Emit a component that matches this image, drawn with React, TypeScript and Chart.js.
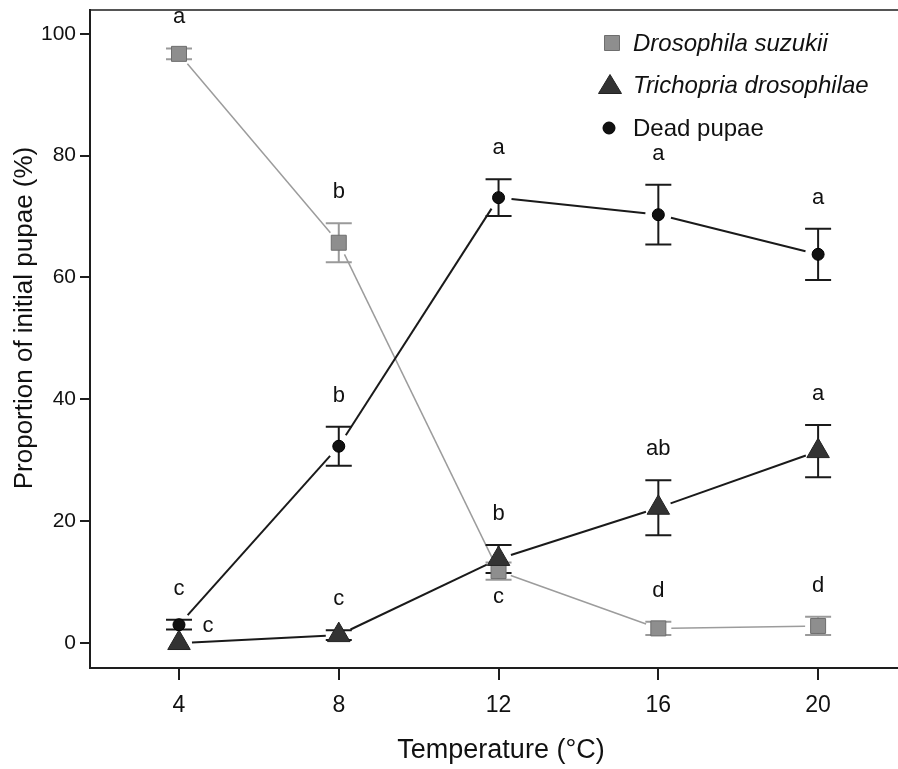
import React, { useEffect, useRef } from 'react';
import { Chart, registerables } from 'chart.js';

Chart.register(...registerables);

// ---- data ----
const temperatures = [4, 8, 12, 16, 20];
const xTickValues = [4, 8, 12, 16, 20];
const yTickValues = [0, 20, 40, 60, 80, 100];

const suzukiiMean = [96.7, 65.7, 11.8, 2.4, 2.8];
const suzukiiErr = [0.9, 3.2, 1.4, 1.1, 1.5];
const suzukiiLetters = ['a', 'b', 'c', 'd', 'd'];
const suzukiiLetterPlace = ['above', 'above', 'below', 'above', 'above'];

const trichopriaMean = [0, 1.3, 13.8, 22.2, 31.5];
const trichopriaErr = [0, 0.8, 2.3, 4.5, 4.3];
const trichopriaLetters = ['c', 'c', 'b', 'ab', 'a'];
const trichopriaLetterPlace = ['right', 'above', 'above', 'above', 'above'];

const deadMean = [3.0, 32.3, 73.1, 70.3, 63.8];
const deadErr = [0.8, 3.2, 3.0, 4.9, 4.2];
const deadLetters = ['c', 'b', 'a', 'a', 'a'];
const deadLetterPlace = ['above', 'above', 'above', 'above', 'above'];

const seriesNames = ['Drosophila suzukii', 'Trichopria drosophilae', 'Dead pupae'];
const seriesItalic = [true, true, false];

const xTitle = 'Temperature (°C)';
const yTitle = 'Proportion of initial pupae (%)';

const FONT = "'Liberation Sans', Arial, Helvetica, sans-serif";
const NARROW = "'Liberation Sans Narrow', 'Liberation Sans', Arial, sans-serif";

const series = [
  {
    name: seriesNames[0], italic: seriesItalic[0], mean: suzukiiMean, err: suzukiiErr,
    letters: suzukiiLetters, place: suzukiiLetterPlace,
    style: 'rect', radius: 10.6, fill: '#8e8e8e', border: '#6e6e6e',
    lineColor: '#9c9c9c', lineWidth: 1.5, errColor: '#9a9a9a', order: 3,
  },
  {
    name: seriesNames[1], italic: seriesItalic[1], mean: trichopriaMean, err: trichopriaErr,
    letters: trichopriaLetters, place: trichopriaLetterPlace,
    style: 'triangle', radius: 13, fill: '#333333', border: '#222222',
    lineColor: '#1a1a1a', lineWidth: 2, errColor: '#1a1a1a', order: 2,
  },
  {
    name: seriesNames[2], italic: seriesItalic[2], mean: deadMean, err: deadErr,
    letters: deadLetters, place: deadLetterPlace,
    style: 'circle', radius: 6, fill: '#111111', border: '#000000',
    lineColor: '#1a1a1a', lineWidth: 2, errColor: '#1a1a1a', order: 1,
  },
];

const GAP = 13;
const CAP = 13;

const overlayPlugin = {
  id: 'overlay',
  beforeDatasetsDraw(chart: any) {
    const ctx = chart.ctx;
    const ys = chart.scales.y;
    series.forEach((s, i) => {
      const meta = chart.getDatasetMeta(i);
      ctx.save();
      ctx.strokeStyle = s.lineColor;
      ctx.lineWidth = s.lineWidth;
      for (let j = 0; j < meta.data.length - 1; j++) {
        const a = meta.data[j];
        const b = meta.data[j + 1];
        const dx = b.x - a.x;
        const dy = b.y - a.y;
        const L = Math.hypot(dx, dy);
        if (L < 2 * GAP) continue;
        const ux = dx / L;
        const uy = dy / L;
        ctx.beginPath();
        ctx.moveTo(a.x + ux * GAP, a.y + uy * GAP);
        ctx.lineTo(b.x - ux * GAP, b.y - uy * GAP);
        ctx.stroke();
      }
      ctx.strokeStyle = s.errColor;
      ctx.lineWidth = 2;
      s.err.forEach((e, j) => {
        if (!e) return;
        const px = meta.data[j].x;
        const yt = ys.getPixelForValue(s.mean[j] + e);
        const yb = ys.getPixelForValue(s.mean[j] - e);
        ctx.beginPath();
        ctx.moveTo(px, yt);
        ctx.lineTo(px, yb);
        ctx.moveTo(px - CAP, yt);
        ctx.lineTo(px + CAP, yt);
        ctx.moveTo(px - CAP, yb);
        ctx.lineTo(px + CAP, yb);
        ctx.stroke();
      });
      ctx.restore();
    });
  },
  afterDatasetsDraw(chart: any) {
    const ctx = chart.ctx;
    const ys = chart.scales.y;
    const area = chart.chartArea;
    ctx.save();
    // significance letters
    ctx.fillStyle = '#111';
    ctx.font = `22px ${FONT}`;
    ctx.textAlign = 'center';
    ctx.textBaseline = 'middle';
    series.forEach((s, i) => {
      const meta = chart.getDatasetMeta(i);
      s.letters.forEach((letter, j) => {
        const p = meta.data[j];
        const yt = ys.getPixelForValue(s.mean[j] + s.err[j]);
        const yb = ys.getPixelForValue(s.mean[j] - s.err[j]);
        let lx = p.x;
        let ly = yt - 31;
        if (s.place[j] === 'below') ly = yb + 17;
        if (s.place[j] === 'right') { lx = p.x + 29; ly = p.y - 17; }
        ctx.fillText(letter, lx, ly);
      });
    });

    // frame (box runs off the right edge of the figure)
    ctx.lineWidth = 2;
    ctx.strokeStyle = '#555555';
    ctx.beginPath();
    ctx.moveTo(area.left, area.top);
    ctx.lineTo(area.right, area.top);
    ctx.stroke();
    ctx.strokeStyle = '#1e1e1e';
    ctx.beginPath();
    ctx.moveTo(area.right, area.bottom);
    ctx.lineTo(area.left, area.bottom);
    ctx.lineTo(area.left, area.top - 1);
    ctx.stroke();

    // legend
    const lx = area.right - 286;
    const ly0 = area.top + 33;
    const step = 42.5;
    series.forEach((s, i) => {
      const cy = ly0 + i * step;
      ctx.fillStyle = s.fill;
      ctx.strokeStyle = s.border;
      ctx.lineWidth = 1;
      ctx.beginPath();
      if (s.style === 'rect') {
        ctx.rect(lx - 7.5, cy - 7.5, 15, 15);
      } else if (s.style === 'triangle') {
        ctx.moveTo(lx - 2, cy - 11);
        ctx.lineTo(lx + 9.5, cy + 8);
        ctx.lineTo(lx - 13.5, cy + 8);
        ctx.closePath();
      } else {
        ctx.arc(lx - 3, cy, 6, 0, Math.PI * 2);
      }
      ctx.fill();
      ctx.stroke();
      ctx.fillStyle = '#111';
      ctx.font = `${s.italic ? 'italic ' : ''}24px ${FONT}`;
      ctx.textAlign = 'left';
      ctx.textBaseline = 'middle';
      ctx.fillText(s.name, lx + 21, cy + 1);
    });

    // axis titles
    ctx.fillStyle = '#111';
    ctx.font = `27px ${FONT}`;
    ctx.textAlign = 'center';
    ctx.textBaseline = 'middle';
    ctx.fillText(xTitle, 501, 751);
    ctx.save();
    ctx.translate(25, 318);
    ctx.rotate(-Math.PI / 2);
    ctx.font = `26px ${FONT}`;
    ctx.fillText(yTitle, 0, 0);
    ctx.restore();
    ctx.restore();
  },
};

const zeroPadding = (scale: any) => {
  scale.paddingTop = 0;
  scale.paddingBottom = 0;
  scale.paddingLeft = 0;
  scale.paddingRight = 0;
};

export default function App() {
  const ref = useRef<HTMLCanvasElement | null>(null);
  useEffect(() => {
    if (!ref.current) return;
    const chart = new Chart(ref.current, {
      type: 'scatter',
      data: {
        datasets: series.map((s) => ({
          label: s.name,
          data: temperatures.map((t, i) => ({ x: t, y: s.mean[i] })),
          pointStyle: s.style as any,
          pointRadius: s.radius,
          pointHoverRadius: s.radius,
          backgroundColor: s.fill,
          borderColor: s.border,
          borderWidth: 1,
          showLine: false,
          order: s.order,
        })),
      },
      options: {
        animation: false,
        responsive: false,
        events: [],
        layout: { autoPadding: false, padding: { top: 10, right: 0, left: 0, bottom: 0 } },
        plugins: { legend: { display: false }, tooltip: { enabled: false } },
        scales: {
          x: {
            type: 'linear',
            min: 1.772,
            max: 22.0,
            afterBuildTicks: (scale: any) => {
              scale.ticks = xTickValues.map((v) => ({ value: v }));
            },
            afterFit: (scale: any) => { scale.height = 101; zeroPadding(scale); },
            border: { display: false },
            grid: {
              drawOnChartArea: false,
              drawTicks: true,
              tickLength: 12,
              color: '#1e1e1e',
              lineWidth: 2,
            },
            ticks: {
              color: '#111',
              font: { family: FONT, size: 23 },
              padding: 12,
              maxRotation: 0,
              autoSkip: false,
            },
          },
          y: {
            type: 'linear',
            min: -4.1,
            max: 103.9,
            afterBuildTicks: (scale: any) => {
              scale.ticks = yTickValues.map((v) => ({ value: v }));
            },
            afterFit: (scale: any) => { scale.width = 90; zeroPadding(scale); },
            border: { display: false },
            grid: {
              drawOnChartArea: false,
              drawTicks: true,
              tickLength: 10,
              color: '#1e1e1e',
              lineWidth: 2,
            },
            ticks: {
              color: '#111',
              font: { family: NARROW, size: 21 },
              padding: 4,
              autoSkip: false,
            },
          },
        },
      },
      plugins: [overlayPlugin],
    });
    return () => chart.destroy();
  }, []);

  return (
    <div style={{ position: 'absolute', left: 0, top: 0, width: 898, height: 769, background: '#fff' }}>
      <canvas ref={ref} width={898} height={769} style={{ display: 'block', width: 898, height: 769 }} />
    </div>
  );
}
